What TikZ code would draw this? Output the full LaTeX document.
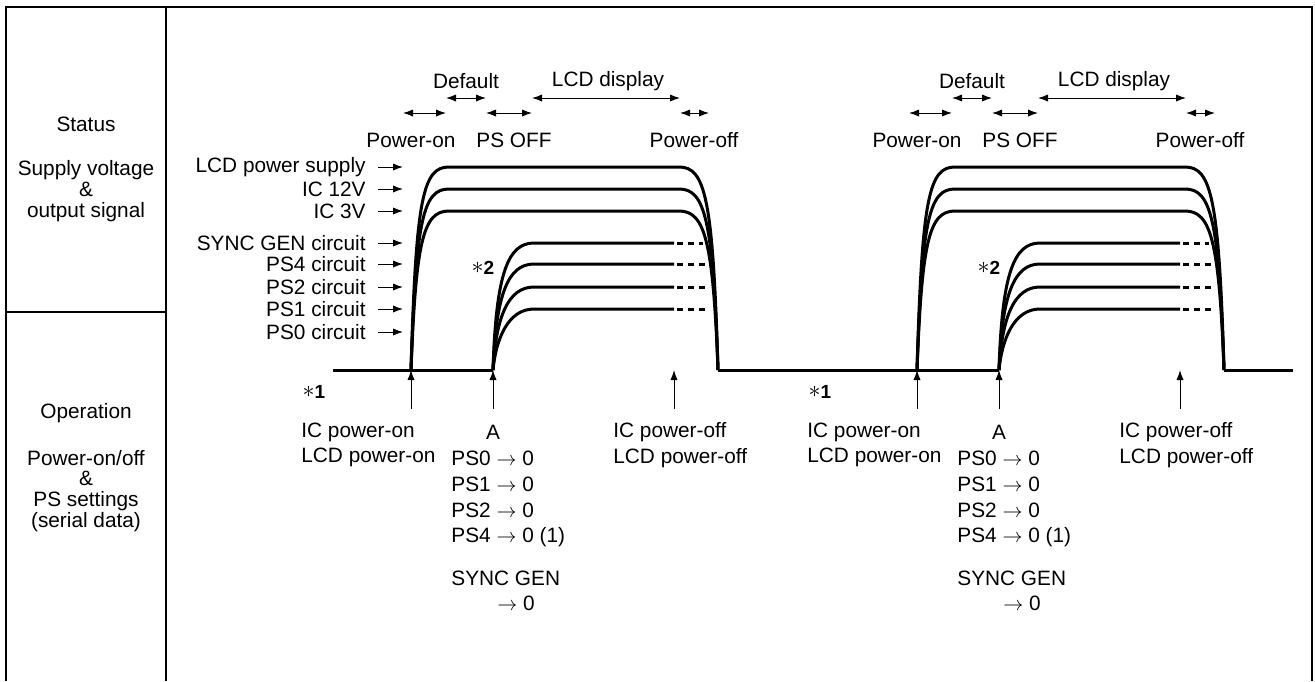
\documentclass[tikz,border=0pt]{standalone}
\usepackage{fontspec}
\setmainfont{Liberation Sans}
\usetikzlibrary{positioning,arrows.meta,calc}

\newcommand{\startag}[1]{\raisebox{0.6pt}{\fontsize{12.5}{12.5}\selectfont$\ast$}\textbf{#1}}

\begin{document}
\begin{tikzpicture}[x=0.5pt,y=-0.5pt,
        lbl/.style={inner sep=0pt, font=\fontsize{10.4}{12.8}\selectfont},
        side/.style={inner sep=0pt, align=center, font=\fontsize{10.4}{10.4}\selectfont},
        note/.style={inner sep=0pt, font=\fontsize{9.5}{10}\selectfont},
        frame/.style={line width=1.2pt},
        wave/.style={line width=1.5pt},
        dashpart/.style={line width=1.5pt, dash pattern=on 3pt off 2.5pt},
        arrow/.style={-{Latex[length=5pt,width=3.6pt]}, line width=0.5pt},
        dblarrow/.style={{Latex[length=5pt,width=3.6pt]}-{Latex[length=5pt,width=3.6pt]}, line width=0.5pt}
    ]
    \useasboundingbox (0,0) rectangle (1315,681);
    % frame
    \draw[frame] (6,681) -- (6,7) -- (1312,7) -- (1312,681);
    \draw[frame] (166,7) -- (166,681);
    \draw[frame] (6,312) -- (166,312);
    % left column
    \node[lbl] (status) at (86,124) {Status};
    \node[side] (supply) at (86,191) {Supply voltage\\\&\\output signal};
    \node[lbl] (oper) at (86,413) {Operation};
    \node[side] (setting) at (86,491) {Power-on/off\\\&\\PS settings\\(serial data)};
    % signal names
    \foreach \y/\name/\lab in {167/lcdps/LCD power supply, 189/ictw/IC 12V, 211/icth/IC 3V,
                               243/sync/SYNC GEN circuit, 264/psf/PS4 circuit, 287/pst/PS2 circuit,
                               309/pso/PS1 circuit, 332/psz/PS0 circuit} {
        \node[lbl, anchor=east] (\name) at (366,\y) {\lab};
        \coordinate (\name tip) at (403,\y);
        \draw[arrow] ([xshift=6pt]\name.east) -- (\name tip);
    }
    % baseline
    \draw[wave] (333,370) -- (493,370);
    \draw[wave] (718,370) -- (999,370);
    \draw[wave] (1224,370) -- (1293,370);
    % two power cycles
    \foreach \xo/\c in {411/1, 917/2} {
        % supply curves
        \foreach \yt in {167,189,211} {
            \draw[wave] (\xo,370) .. controls (\xo+5,\yt+30) and (\xo+12,\yt) .. (\xo+38,\yt)
                -- (\xo+268,\yt) .. controls (\xo+294,\yt) and (\xo+302,\yt+30) .. (\xo+307,370);
        }
        % PS circuit curves
        \foreach \yp/\de in {243/292, 264/296, 287/298, 309/298} {
            \draw[wave] (\xo+82,370) .. controls (\xo+85,\yp+30) and (\xo+97,\yp) .. (\xo+123,\yp)
                -- (\xo+263,\yp);
            \draw[dashpart] (\xo+266,\yp) -- (\xo+\de,\yp);
        }
        % periods
        \node[lbl] (default\c) at (\xo+55,81) {Default};
        \node[lbl] (display\c) at (\xo+197,81) {LCD display};
        \node[lbl] (pwon\c) at (\xo,140) {Power-on};
        \node[lbl] (psoff\c) at (\xo+103,140) {PS OFF};
        \node[lbl] (pwoff\c) at (\xo+283,140) {Power-off};
        \coordinate (t0\c) at (\xo-8,113);
        \coordinate (t1\c) at (\xo+35,113);
        \coordinate (t2\c) at (\xo+75,113);
        \coordinate (t3\c) at (\xo+121,113);
        \coordinate (t4\c) at (\xo+269,113);
        \coordinate (t5\c) at (\xo+298,113);
        \draw[dblarrow] (t0\c) -- (t1\c);
        \draw[dblarrow] ([yshift=7.5pt]t1\c) -- ([yshift=7.5pt]t2\c);
        \draw[dblarrow] (t2\c) -- (t3\c);
        \draw[dblarrow] ([yshift=7.5pt]t3\c) -- ([yshift=7.5pt]t4\c);
        \draw[dblarrow] (t4\c) -- (t5\c);
        % notes
        \node[note] (nto\c) at (\xo-97,392) {\startag{1}};
        \node[note] (ntt\c) at (\xo+72,268) {\startag{2}};
        % operation arrows
        \coordinate (on\c) at (\xo,370);
        \coordinate (onfoot\c) at (\xo,409);
        \coordinate (a\c) at (\xo+82,370);
        \coordinate (afoot\c) at (\xo+82,409);
        \coordinate (off\c) at (\xo+263,370);
        \coordinate (offfoot\c) at (\xo+263,409);
        \draw[arrow] (onfoot\c) -- (on\c);
        \draw[arrow] (afoot\c) -- (a\c);
        \draw[arrow] (offfoot\c) -- (off\c);
        % operation texts
        \node[lbl, align=left, anchor=west] (icon\c) at (\xo-110,445) {IC power-on\\LCD power-on};
        \node[lbl] (pointa\c) at (\xo+82,432) {A};
        \node[lbl, align=left, anchor=west] (icoff\c) at (\xo+202,445) {IC power-off\\LCD power-off};
        \foreach \y/\name/\lab in {458/psz/{PS0 $\rightarrow$ 0}, 484/pso/{PS1 $\rightarrow$ 0},
                                   510/pst/{PS2 $\rightarrow$ 0}, 537/psf/{PS4 $\rightarrow$ 0 (1)},
                                   578/sync/{SYNC GEN}} {
            \node[lbl, anchor=west] (\name set\c) at (\xo+40,\y) {\lab};
        }
        \node[lbl] (syncset\c b) at (\xo+105,603) {$\rightarrow$ 0};
    }
\end{tikzpicture}
\end{document}
